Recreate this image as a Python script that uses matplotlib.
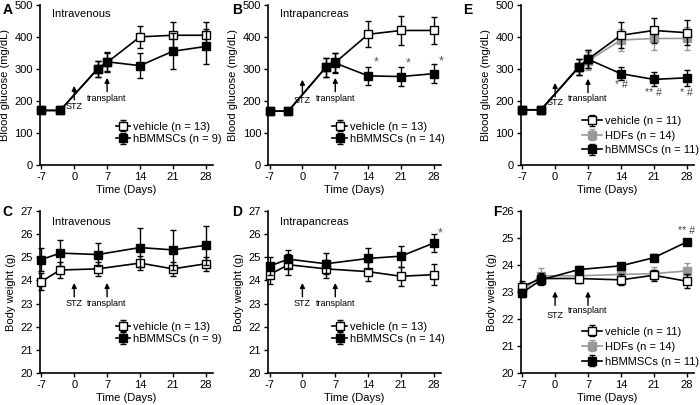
import matplotlib
matplotlib.use('Agg')
import matplotlib.pyplot as plt
import numpy as np

plt.rcParams['font.family'] = ['Liberation Sans', 'DejaVu Sans']
plt.rcParams['axes.unicode_minus'] = False

# days of measurement
days_glu = [-7, -3, 5, 7, 14, 21, 28]
days_bw = [-7, -3, 5, 14, 21, 28]
xticks = [-7, 0, 7, 14, 21, 28]

# A: blood glucose, intravenous
a_veh = [170, 170, 300, 320, 400, 405, 405]
a_veh_err = [5, 5, 25, 30, 35, 40, 40]
a_msc = [170, 170, 300, 322, 310, 355, 370]
a_msc_err = [5, 5, 25, 30, 40, 57, 55]

# B: blood glucose, intrapancreas
b_veh = [168, 168, 305, 320, 408, 420, 420]
b_veh_err = [5, 5, 30, 30, 40, 45, 42]
b_msc = [168, 168, 305, 318, 278, 276, 285]
b_msc_err = [5, 5, 30, 30, 28, 30, 30]

# E: blood glucose, three groups
e_veh = [172, 172, 305, 330, 405, 420, 413]
e_veh_err = [5, 5, 25, 28, 40, 40, 40]
e_hdf = [172, 172, 305, 325, 390, 395, 395]
e_hdf_err = [5, 5, 25, 28, 35, 35, 35]
e_msc = [172, 172, 305, 330, 285, 267, 272]
e_msc_err = [5, 5, 25, 28, 20, 22, 25]

# C: body weight, intravenous
c_veh = [23.95, 24.45, 24.5, 24.75, 24.5, 24.72]
c_veh_err = [0.35, 0.35, 0.3, 0.3, 0.3, 0.3]
c_msc = [24.9, 25.18, 25.12, 25.42, 25.32, 25.52]
c_msc_err = [0.5, 0.55, 0.5, 0.85, 0.85, 0.85]

# D: body weight, intrapancreas
d_veh = [24.25, 24.68, 24.5, 24.38, 24.18, 24.25]
d_veh_err = [0.4, 0.45, 0.4, 0.4, 0.4, 0.45]
d_msc = [24.62, 24.92, 24.72, 24.95, 25.05, 25.62]
d_msc_err = [0.4, 0.4, 0.45, 0.45, 0.45, 0.4]

# F: body weight, three groups
f_veh = [23.2, 23.5, 23.5, 23.45, 23.62, 23.4]
f_veh_err = [0.2, 0.2, 0.15, 0.2, 0.2, 0.25]
f_hdf = [23.05, 23.6, 23.6, 23.65, 23.68, 23.78]
f_hdf_err = [0.25, 0.3, 0.25, 0.25, 0.25, 0.3]
f_msc = [22.97, 23.45, 23.83, 23.97, 24.27, 24.85]
f_msc_err = [0.15, 0.2, 0.12, 0.12, 0.12, 0.1]

GREY = '#999999'


def series(ax, x, y, err, face, edge, label, z):
    ax.errorbar(x, y, yerr=err, color=edge, mfc=face, mec=edge, marker='s',
                markersize=6, lw=1.2, elinewidth=1.0, capsize=2, capthick=1.0,
                label=label, zorder=z, clip_on=False)


def style(ax, ylim, yticks, ylabel):
    ax.set_xlim(-7.3, 29.5)
    ax.set_ylim(*ylim)
    ax.set_xticks(xticks)
    ax.set_yticks(yticks)
    for s in ['top', 'right']:
        ax.spines[s].set_visible(False)
    for s in ['left', 'bottom']:
        ax.spines[s].set_linewidth(1.2)
    ax.tick_params(direction='out', length=3, width=1.0, labelsize=8, pad=2)
    ax.set_xlabel('Time (Days)', fontsize=8, labelpad=2)
    ax.set_ylabel(ylabel, fontsize=8, labelpad=3)


def arrow(ax, x, tip, label, text_off=15):
    # short upward arrow with its label just underneath
    ax.annotate('', xy=(x, tip), xytext=(0, -10), textcoords='offset points',
                arrowprops=dict(arrowstyle='-|>', color='black', lw=1,
                                mutation_scale=7, shrinkA=0, shrinkB=0))
    ax.annotate(label, xy=(x, tip), xytext=(0, -text_off), textcoords='offset points',
                ha='center', va='center', fontsize=6.5)


def legend(ax, anchor, hl, spacing):
    ax.legend(loc='lower right', bbox_to_anchor=anchor, frameon=False, fontsize=8,
              handlelength=hl, handletextpad=0.25, labelspacing=spacing, borderpad=0,
              borderaxespad=0)


fig = plt.figure(figsize=(7, 4.05), dpi=100)

lefts = [0.057, 0.383, 0.744]
w = 0.247
top_b, top_h = 0.593, 0.395
bot_b, bot_h = 0.079, 0.400

axA = fig.add_axes([lefts[0], top_b, w, top_h])
axB = fig.add_axes([lefts[1], top_b, w, top_h])
axE = fig.add_axes([lefts[2], top_b, w, top_h])
axC = fig.add_axes([lefts[0], bot_b, w, bot_h])
axD = fig.add_axes([lefts[1], bot_b, w, bot_h])
axF = fig.add_axes([lefts[2], bot_b, w, bot_h])

# A
series(axA, days_glu, a_veh, a_veh_err, 'white', 'black', 'vehicle (n = 13)', 3)
series(axA, days_glu, a_msc, a_msc_err, 'black', 'black', 'hBMMSCs (n = 9)', 4)
style(axA, (0, 500), [0, 100, 200, 300, 400, 500], 'Blood glucose (mg/dL)')
arrow(axA, 0, 247, 'STZ')
arrow(axA, 7, 272, 'transplant')
axA.text(0.07, 0.94, 'Intravenous', transform=axA.transAxes, fontsize=8, va='center')
legend(axA, (1.05, 0.13), 1.3, 0.2)

# B
series(axB, days_glu, b_veh, b_veh_err, 'white', 'black', 'vehicle (n = 13)', 3)
series(axB, days_glu, b_msc, b_msc_err, 'black', 'black', 'hBMMSCs (n = 14)', 4)
style(axB, (0, 500), [0, 100, 200, 300, 400, 500], 'Blood glucose (mg/dL)')
arrow(axB, 0, 266, 'STZ')
arrow(axB, 7, 272, 'transplant')
axB.text(0.07, 0.94, 'Intrapancreas', transform=axB.transAxes, fontsize=8, va='center')
for d, yy in [(14, 319), (21, 316), (28, 322)]:
    axB.text(d + 1.6, yy, '*', color='#555555', fontsize=9, ha='center', va='center')
legend(axB, (1.02, 0.13), 1.3, 0.2)

# E
series(axE, days_glu, e_veh, e_veh_err, 'white', 'black', 'vehicle (n = 11)', 3)
series(axE, days_glu, e_hdf, e_hdf_err, GREY, GREY, 'HDFs (n = 14)', 2)
series(axE, days_glu, e_msc, e_msc_err, 'black', 'black', 'hBMMSCs (n = 11)', 4)
style(axE, (0, 500), [0, 100, 200, 300, 400, 500], 'Blood glucose (mg/dL)')
arrow(axE, 0, 256, 'STZ', 14)
arrow(axE, 7, 269, 'transplant', 14)
for d, s, yy in [(14, '* #', 250), (21, '** #', 225), (28, '* #', 225)]:
    axE.text(d, yy, s, color='#444444', fontsize=7.5, ha='center', va='center')
legend(axE, (1.03, 0.06), 1.8, 0.4)

# C
series(axC, days_bw, c_veh, c_veh_err, 'white', 'black', 'vehicle (n = 13)', 3)
series(axC, days_bw, c_msc, c_msc_err, 'black', 'black', 'hBMMSCs (n = 9)', 4)
style(axC, (20, 27), range(20, 28), 'Body weight (g)')
arrow(axC, 0, 23.89, 'STZ')
arrow(axC, 7, 23.89, 'transplant')
axC.text(0.07, 0.93, 'Intravenous', transform=axC.transAxes, fontsize=8, va='center')
legend(axC, (1.05, 0.18), 1.3, 0.2)

# D
series(axD, days_bw, d_veh, d_veh_err, 'white', 'black', 'vehicle (n = 13)', 3)
series(axD, days_bw, d_msc, d_msc_err, 'black', 'black', 'hBMMSCs (n = 14)', 4)
style(axD, (20, 27), range(20, 28), 'Body weight (g)')
arrow(axD, 0, 23.89, 'STZ')
arrow(axD, 7, 23.89, 'transplant')
axD.text(0.07, 0.93, 'Intrapancreas', transform=axD.transAxes, fontsize=8, va='center')
axD.text(29.4, 26.05, '*', color='#555555', fontsize=9, ha='center', va='center')
legend(axD, (1.02, 0.18), 1.3, 0.2)

# F
series(axF, days_bw, f_veh, f_veh_err, 'white', 'black', 'vehicle (n = 11)', 3)
series(axF, days_bw, f_hdf, f_hdf_err, GREY, GREY, 'HDFs (n = 14)', 2)
series(axF, days_bw, f_msc, f_msc_err, 'black', 'black', 'hBMMSCs (n = 11)', 4)
style(axF, (20, 26), range(20, 27), 'Body weight (g)')
arrow(axF, 0, 23.02, 'STZ', 17)
arrow(axF, 7, 23.02, 'transplant', 13.5)
axF.text(28, 25.26, '** #', color='#444444', fontsize=7.5, ha='center', va='center')
legend(axF, (1.03, 0.04), 1.8, 0.45)

# panel letters
for txt, x, y in [('A', 0.004, 0.975), ('B', 0.331, 0.975), ('E', 0.661, 0.975),
                  ('C', 0.004, 0.477), ('D', 0.331, 0.477), ('F', 0.704, 0.477)]:
    fig.text(x, y, txt, fontsize=10, fontweight='bold', va='center')

fig.savefig('out.png', dpi=100)
